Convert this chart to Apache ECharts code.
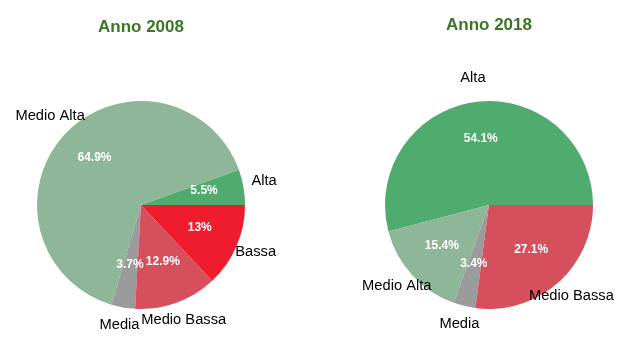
<!DOCTYPE html>
<html>
<head>
<meta charset="utf-8">
<script src="https://cdn.jsdelivr.net/npm/echarts@6/dist/echarts.min.js"></script>
<style>
  html, body { margin: 0; padding: 0; background: #fff; }
  #chart { width: 629px; height: 338px; }
</style>
</head>
<body>
<div id="chart"></div>
<script>
// Income bands and their shares (%) for the two survey years
const categories2008 = ['Alta', 'Medio Alta', 'Media', 'Medio Bassa', 'Bassa'];
const values2008 = [5.5, 64.9, 3.7, 12.9, 13];
const categories2018 = ['Alta', 'Medio Alta', 'Media', 'Medio Bassa'];
const values2018 = [54.1, 15.4, 3.4, 27.1];
const titles = ['Anno 2008', 'Anno 2018'];

const bandColors = {
  'Alta': '#50ab6e',
  'Medio Alta': '#8eb799',
  'Media': '#9b9b9b',
  'Medio Bassa': '#d54f5c',
  'Bassa': '#ef1c2d'
};

const FONT = '"Liberation Sans", Arial, sans-serif';
const R = 104;

function toData(cats, vals, ghost) {
  return cats.map((c, i) => ({
    name: c,
    value: vals[i],
    itemStyle: { color: ghost ? 'rgba(0,0,0,0)' : bandColors[c] }
  }));
}

function pieSeries(cats, vals, cx) {
  const common = {
    type: 'pie',
    center: [cx, 205],
    startAngle: 0,
    clockwise: false,
    animation: false,
    labelLine: { show: false },
    emphasis: { disabled: true }
  };
  return [
    // slices
    Object.assign({}, common, {
      radius: [0, R],
      label: { show: false },
      data: toData(cats, vals, false)
    }),
    // percentage labels inside the slices
    Object.assign({}, common, {
      radius: [40, 82],
      silent: true,
      z: 3,
      label: {
        show: true,
        position: 'inside',
        offset: [0, -3],
        formatter: p => p.value + '%',
        color: '#ffffff',
        fontFamily: FONT,
        fontWeight: 'bold',
        fontSize: 12
      },
      data: toData(cats, vals, true)
    }),
    // category names around the pie
    Object.assign({}, common, {
      radius: [104, 140],
      silent: true,
      z: 3,
      label: {
        show: true,
        position: 'inside',
        offset: [0, -3],
        formatter: p => p.name,
        color: '#000000',
        fontFamily: FONT,
        fontSize: 14.7
      },
      data: toData(cats, vals, true)
    })
  ];
}

const titleStyle = { color: '#3b7627', fontFamily: FONT, fontWeight: 'bold', fontSize: 17 };

const chart = echarts.init(document.getElementById('chart'), null, { renderer: 'canvas' });
chart.setOption({
  backgroundColor: '#ffffff',
  animation: false,
  title: [
    { text: titles[0], left: 141, top: 19, padding: 0, textAlign: 'center', textStyle: titleStyle },
    { text: titles[1], left: 489, top: 17, padding: 0, textAlign: 'center', textStyle: titleStyle }
  ],
  series: [
    ...pieSeries(categories2008, values2008, 141),
    ...pieSeries(categories2018, values2018, 489)
  ]
});
</script>
</body>
</html>
